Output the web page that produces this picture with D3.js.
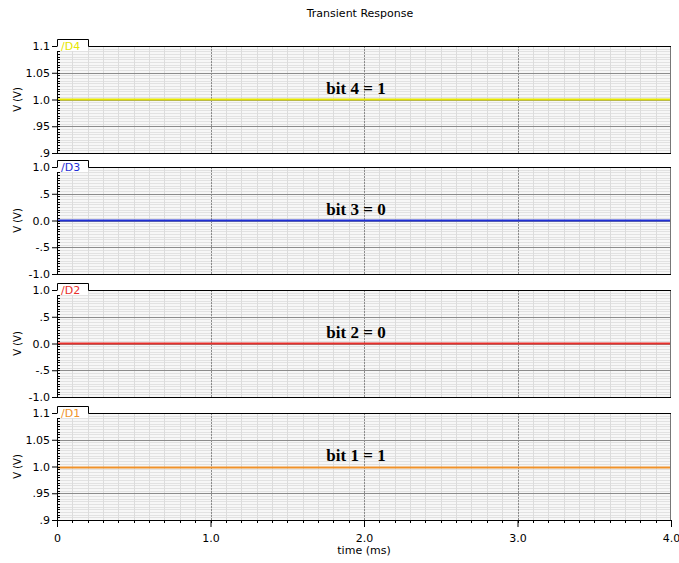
<!DOCTYPE html>
<html>
<head>
<meta charset="utf-8">
<script src="https://cdn.jsdelivr.net/npm/d3@7"></script>
<style>
  body { margin: 0; background: #fff; }
  svg text { font-family: "DejaVu Sans", sans-serif; }
</style>
</head>
<body>
<svg id="chart" width="679" height="563"></svg>
<script>
// time points (ms)
const times = [0, 1, 2, 3, 4]
// node voltages (V), all flat
const d4 = [1.0, 1.0, 1.0, 1.0, 1.0]
const d3v = [0.0, 0.0, 0.0, 0.0, 0.0]
const d2 = [0.0, 0.0, 0.0, 0.0, 0.0]
const d1 = [0.998, 0.998, 0.998, 0.998, 0.998]

const signalNames = ['/D4', '/D3', '/D2', '/D1']
const notes = ['bit 4 = 1', 'bit 3 = 0', 'bit 2 = 0', 'bit 1 = 1']
const xTickLabels = ['0', '1.0', '2.0', '3.0', '4.0']
const tickLabelsHigh = ['.9', '.95', '1.0', '1.05', '1.1']
const tickLabelsSym = ['-1.0', '-.5', '0.0', '.5', '1.0']

const panels = [
  { name: signalNames[0], values: d4, domain: [0.9, 1.1], ticks: [0.9, 0.95, 1.0, 1.05, 1.1], labels: tickLabelsHigh, color: '#e6e600', note: notes[0] },
  { name: signalNames[1], values: d3v, domain: [-1, 1], ticks: [-1, -0.5, 0, 0.5, 1], labels: tickLabelsSym, color: '#1f2fd6', note: notes[1] },
  { name: signalNames[2], values: d2, domain: [-1, 1], ticks: [-1, -0.5, 0, 0.5, 1], labels: tickLabelsSym, color: '#e8302c', note: notes[2] },
  { name: signalNames[3], values: d1, domain: [0.9, 1.1], ticks: [0.9, 0.95, 1.0, 1.05, 1.1], labels: tickLabelsHigh, color: '#f0922a', note: notes[3] }
]

const svg = d3.select('#chart')
const left = 57, right = 671
const tops = [46, 167, 290, 413]
const ph = 107

const x = d3.scaleLinear().domain([0, 4]).range([left, right])

svg.append('text')
  .attr('x', 360).attr('y', 17)
  .attr('text-anchor', 'middle')
  .style('font-size', '11px')
  .text('Transient Response')

panels.forEach((p, i) => {
  const top = tops[i]
  const y = d3.scaleLinear().domain(p.domain).range([top + ph, top])
  const g = svg.append('g')
  const step = (p.domain[1] - p.domain[0]) / 40
  const minorY = d3.range(41).map(k => p.domain[0] + k * step)

  // background + minor grid
  g.append('rect').attr('x', left).attr('y', top).attr('width', right - left).attr('height', ph)
    .style('fill', '#f7f7f7')
  g.selectAll('line.hminor').data(minorY).enter().append('line')
    .attr('x1', left).attr('x2', right)
    .attr('y1', d => Math.round(y(d)) + 0.5).attr('y2', d => Math.round(y(d)) + 0.5)
    .style('stroke', '#e2e2e2')
  g.selectAll('line.vminor').data(d3.range(1, 40).map(k => k / 10)).enter().append('line')
    .attr('y1', top).attr('y2', top + ph)
    .attr('x1', d => Math.round(x(d)) + 0.5).attr('x2', d => Math.round(x(d)) + 0.5)
    .style('stroke', '#dcdcdc')
  // major grid
  g.selectAll('line.hmajor').data(p.ticks.slice(1, 4)).enter().append('line')
    .attr('x1', left).attr('x2', right)
    .attr('y1', d => Math.round(y(d)) + 0.5).attr('y2', d => Math.round(y(d)) + 0.5)
    .style('stroke', '#8c8c8c')
  g.selectAll('line.vmajor').data([1, 2, 3]).enter().append('line')
    .attr('y1', top).attr('y2', top + ph)
    .attr('x1', d => Math.round(x(d)) + 0.5).attr('x2', d => Math.round(x(d)) + 0.5)
    .style('stroke', '#8c8c8c')
    .style('stroke-dasharray', '2,1')

  // trace
  const line = d3.line().x(d => x(d[0])).y(d => y(d[1]))
  g.append('path')
    .datum(times.map((t, k) => [t, p.values[k]]))
    .attr('d', line)
    .style('fill', 'none')
    .style('stroke', p.color)
    .style('stroke-width', 2)

  // y axis
  const yaxis = d3.axisLeft(y).tickValues(p.ticks).tickFormat((d, k) => p.labels[k]).tickSize(5).tickSizeOuter(0)
  const yg = g.append('g').attr('transform', `translate(${left},0)`).call(yaxis)
  yg.select('.domain').style('stroke', '#000')
  yg.selectAll('text').style('font-size', '11px').attr('dx', '1')
  yg.selectAll('line.minor').data(minorY).enter().append('line')
    .attr('x1', 0).attr('x2', 3)
    .attr('y1', d => Math.round(y(d)) + 0.5).attr('y2', d => Math.round(y(d)) + 0.5)
    .style('stroke', '#000')

  // frame
  g.append('line').attr('x1', right - 0.5).attr('x2', right - 0.5).attr('y1', top).attr('y2', top + ph)
    .style('stroke', '#777')
  g.append('line').attr('x1', left).attr('x2', right).attr('y1', top + ph + 0.5).attr('y2', top + ph + 0.5)
    .style('stroke', '#000')

  // signal tab
  g.append('rect').attr('x', left).attr('y', top - 7).attr('width', 31).attr('height', 12)
    .style('fill', '#fff')
  g.append('path')
    .attr('d', `M${left + 0.5},${top + 0.5} V${top - 6.5} H${left + 31.5} V${top + 0.5} H${right}`)
    .style('fill', 'none').style('stroke', '#000')
  g.append('text')
    .attr('x', left + 4).attr('y', top + 4)
    .style('font-size', '11px')
    .style('fill', p.color)
    .text(p.name)

  g.append('text')
    .attr('x', 356).attr('y', y(p.domain[0] + (p.domain[1] - p.domain[0]) * 0.5) - 6)
    .attr('text-anchor', 'middle')
    .style('font-family', '"Liberation Serif", serif')
    .style('font-weight', 'bold')
    .style('font-size', '17px')
    .text(p.note)

  svg.append('text')
    .attr('transform', `translate(21,${top + ph / 2}) rotate(-90)`)
    .attr('text-anchor', 'middle')
    .style('font-size', '10px')
    .text('V (V)')
})

// x axis
const bottom = tops[3] + ph
const xaxis = d3.axisBottom(x).tickValues([0, 1, 2, 3, 4]).tickFormat((d, k) => xTickLabels[k]).tickSize(7).tickSizeOuter(0)
const xg = svg.append('g').attr('transform', `translate(0,${bottom})`).call(xaxis)
xg.select('.domain').remove()
xg.selectAll('text').style('font-size', '11px').attr('dy', '1.1em')
xg.selectAll('line.minor').data(d3.range(1, 40).map(k => k / 10)).enter().append('line')
  .attr('x1', d => Math.round(x(d)) + 0.5).attr('x2', d => Math.round(x(d)) + 0.5)
  .attr('y1', 0).attr('y2', 3)
  .style('stroke', '#000')

svg.append('text')
  .attr('x', 364).attr('y', 554)
  .attr('text-anchor', 'middle')
  .style('font-size', '11px')
  .text('time (ms)')
</script>
</body>
</html>
